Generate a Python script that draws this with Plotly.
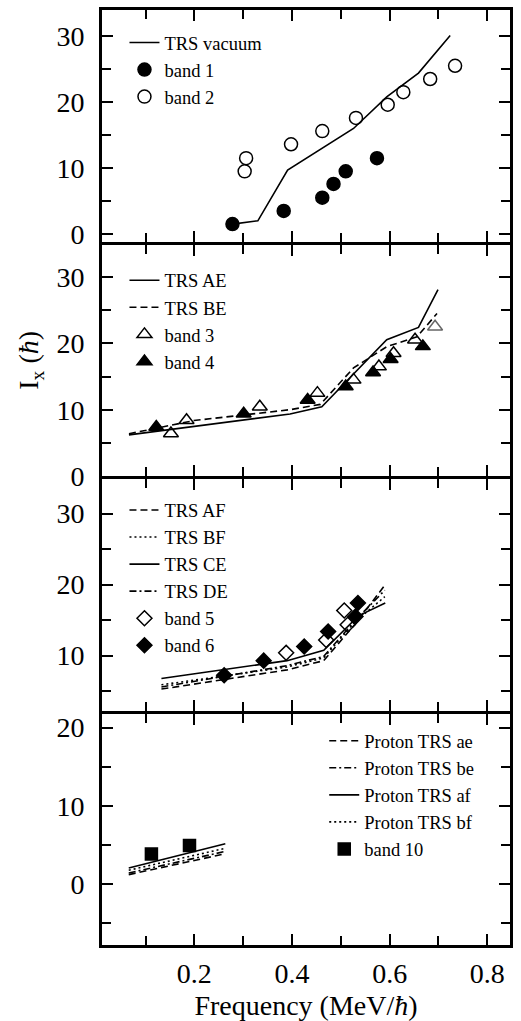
import plotly.graph_objects as go

# ---------------- data ----------------
# Panel 1
vac_x = [0.278, 0.330, 0.391, 0.465, 0.526, 0.594, 0.659, 0.724]
vac_y = [1.5, 2.0, 9.7, 13.2, 16.0, 20.8, 24.4, 30.1]
b1_x = [0.278, 0.383, 0.462, 0.485, 0.510, 0.574]
b1_y = [1.5, 3.5, 5.5, 7.6, 9.5, 11.5]
b2_x = [0.303, 0.306, 0.398, 0.462, 0.531, 0.596, 0.628, 0.683, 0.734]
b2_y = [9.5, 11.5, 13.6, 15.6, 17.6, 19.6, 21.5, 23.5, 25.5]

# Panel 2
ae_x = [0.066, 0.396, 0.461, 0.594, 0.659, 0.699]
ae_y = [6.2, 9.36, 10.45, 20.55, 22.4, 28.1]
be_x = [0.066, 0.199, 0.396, 0.458, 0.526, 0.594, 0.656, 0.697]
be_y = [6.37, 8.36, 10.0, 10.8, 16.3, 19.5, 21.0, 24.5]
b3_x = [0.152, 0.184, 0.334, 0.452, 0.526, 0.578, 0.608, 0.652, 0.693]
b3_y = [6.4, 8.4, 10.45, 12.5, 14.5, 16.5, 18.5, 20.55, 22.5]
b4_x = [0.122, 0.301, 0.432, 0.510, 0.566, 0.602, 0.668]
b4_y = [7.4, 9.4, 11.45, 13.5, 15.6, 17.6, 19.55]

# Panel 3
af_x = [0.1325, 0.390, 0.465, 0.530, 0.590]
af_y = [5.3, 8.0, 9.3, 14.5, 19.9]
bf_x = [0.1325, 0.390, 0.465, 0.530, 0.590]
bf_y = [5.9, 8.4, 9.7, 14.8, 18.3]
ce_x = [0.1325, 0.390, 0.465, 0.536, 0.591]
ce_y = [6.8, 9.3, 10.75, 15.6, 17.4]
de_x = [0.1325, 0.390, 0.465, 0.530, 0.590]
de_y = [5.6, 8.6, 9.9, 15.0, 19.2]
b5_x = [0.388, 0.470, 0.507, 0.514]
b5_y = [10.4, 12.2, 16.35, 14.35]
b6_x = [0.261, 0.342, 0.425, 0.474, 0.530, 0.535]
b6_y = [7.24, 9.3, 11.3, 13.4, 15.5, 17.4]

# Panel 4
p_x = [0.0656, 0.2634]
pae_y = [1.24, 3.9]
pbe_y = [1.45, 4.2]
paf_y = [2.09, 5.19]
pbf_y = [1.8, 4.6]
b10_x = [0.112, 0.190]
b10_y = [3.87, 4.97]

# ---------------- figure ----------------
FONT = "Liberation Serif, Times New Roman, serif"
LW = 1.6
DASH = "7px,4px"
DOT = "2px,3px"
DASHDOT = "7px,3px,2px,3px"

fig = go.Figure()

def line(x, y, name, dash, xa, ya, leg):
    fig.add_trace(go.Scatter(x=x, y=y, mode="lines", name=name,
                             line=dict(color="black", width=LW, dash=dash),
                             xaxis=xa, yaxis=ya, legend=leg))

def pts(x, y, name, symbol, xa, ya, leg, size=13, color="black"):
    fig.add_trace(go.Scatter(x=x, y=y, mode="markers", name=name,
                             marker=dict(symbol=symbol, size=size, color=color,
                                         line=dict(color=color, width=1.5)),
                             xaxis=xa, yaxis=ya, legend=leg))

# panel 1 (top)
line(vac_x, vac_y, "TRS vacuum", "solid", "x", "y", "legend")
pts(b1_x, b1_y, "band 1", "circle", "x", "y", "legend")
pts(b2_x, b2_y, "band 2", "circle-open", "x", "y", "legend")

# panel 2
line(ae_x, ae_y, "TRS AE", "solid", "x2", "y2", "legend2")
line(be_x, be_y, "TRS BE", DASH, "x2", "y2", "legend2")
pts(b3_x, b3_y, "band 3", "triangle-up-open", "x2", "y2", "legend2",
    color=["black"] * 8 + ["#666666"])
pts(b4_x, b4_y, "band 4", "triangle-up", "x2", "y2", "legend2")

# panel 3
line(af_x, af_y, "TRS AF", DASH, "x3", "y3", "legend3")
line(bf_x, bf_y, "TRS BF", DOT, "x3", "y3", "legend3")
line(ce_x, ce_y, "TRS CE", "solid", "x3", "y3", "legend3")
line(de_x, de_y, "TRS DE", DASHDOT, "x3", "y3", "legend3")
pts(b5_x, b5_y, "band 5", "diamond-open", "x3", "y3", "legend3", size=11.5)
pts(b6_x, b6_y, "band 6", "diamond", "x3", "y3", "legend3", size=11.5)

# panel 4
line(p_x, pae_y, "Proton TRS ae", DASH, "x4", "y4", "legend4")
line(p_x, pbe_y, "Proton TRS be", DASHDOT, "x4", "y4", "legend4")
line(p_x, paf_y, "Proton TRS af", "solid", "x4", "y4", "legend4")
line(p_x, pbf_y, "Proton TRS bf", DOT, "x4", "y4", "legend4")
pts(b10_x, b10_y, "band 10", "square", "x4", "y4", "legend4", size=12)

# ---------------- layout ----------------
OFF = 0                      # body margin removed by post_script below
FIG_W, FIG_H = 521, 1021
PL, PR = 101.5, 510.0        # plot area (page coords)
PT, PB = 9.5, 945.5
LINE_W = 3
hw = LINE_W / 2

def frac(py):
    return (PB - py) / (PB - PT)

def xfrac(px):
    return (px - PL) / (PR - PL)

domains = [
    [frac(243.5 - hw), 1.0],
    [frac(477.5 - hw), frac(243.5 + hw)],
    [frac(712.5 - hw), frac(477.5 + hw)],
    [0.0, frac(712.5 + hw)],
]
yranges = [[-1.25, 33.96], [0.0, 34.8], [2.25, 34.86], [-7.75, 21.78]]
XRANGE = [0.0108, 0.8465]

axis_common = dict(
    showline=True, linecolor="black", linewidth=LINE_W, mirror="ticks",
    ticks="inside", ticklen=11, tickwidth=2, tickcolor="black",
    showgrid=False, zeroline=False, automargin=False,
    tickfont=dict(family=FONT, size=28, color="black"),
)

layout = dict(
    template="none",
    width=FIG_W, height=FIG_H,
    margin=dict(l=PL - OFF, r=FIG_W - (PR - OFF), t=PT - OFF,
                b=FIG_H - (PB - OFF), pad=0, autoexpand=False),
    paper_bgcolor="white", plot_bgcolor="white",
    font=dict(family=FONT, color="black"),
)

for i in range(4):
    n = "" if i == 0 else str(i + 1)
    xa = dict(axis_common)
    xa.update(domain=[0, 1], range=XRANGE, anchor="y" + n,
              tick0=0, dtick=0.2,
              minor=dict(dtick=0.1, ticks="inside", ticklen=9, tickwidth=2,
                         tickcolor="black", showgrid=False),
              showticklabels=(i == 3))
    if i != 0:
        xa["matches"] = "x"
    if i == 3:
        xa.update(tickformat=".1f", ticklabelstandoff=1,
                  title=dict(text="Frequency (MeV/<i>ħ</i>)",
                             font=dict(family=FONT, size=28, color="black"),
                             standoff=13))
    ya = dict(axis_common)
    ya.update(domain=domains[i], range=yranges[i], anchor="x" + n,
              tick0=0, dtick=10,
              minor=dict(dtick=5, ticks="inside", ticklen=9, tickwidth=2,
                         tickcolor="black", showgrid=False),
              ticklabelstandoff=9)
    layout["xaxis" + n] = xa
    layout["yaxis" + n] = ya

leg_common = dict(bgcolor="rgba(0,0,0,0)", borderwidth=0,
                  font=dict(family=FONT, size=18.5, color="black"),
                  xanchor="left", yanchor="top", tracegroupgap=0,
                  itemwidth=30)
layout["legend"] = dict(leg_common, x=xfrac(124), y=frac(23.5))
layout["legend2"] = dict(leg_common, x=xfrac(124), y=frac(261.5))
layout["legend3"] = dict(leg_common, x=xfrac(124), y=frac(491.5))
layout["legend4"] = dict(leg_common, x=xfrac(324), y=frac(722.5))

layout["annotations"] = [dict(
    text="I<sub>x</sub> (<i>ħ</i>)", textangle=-90,
    xref="paper", yref="paper", x=xfrac(30), y=frac(360),
    xanchor="center", yanchor="middle", showarrow=False,
    font=dict(family=FONT, size=28, color="black"))]

fig.update_layout(**layout)
fig.write_html("out.html",
               config={"displayModeBar": False},
               post_script="document.body.style.margin='0';"
                           "document.body.style.overflow='hidden';")
